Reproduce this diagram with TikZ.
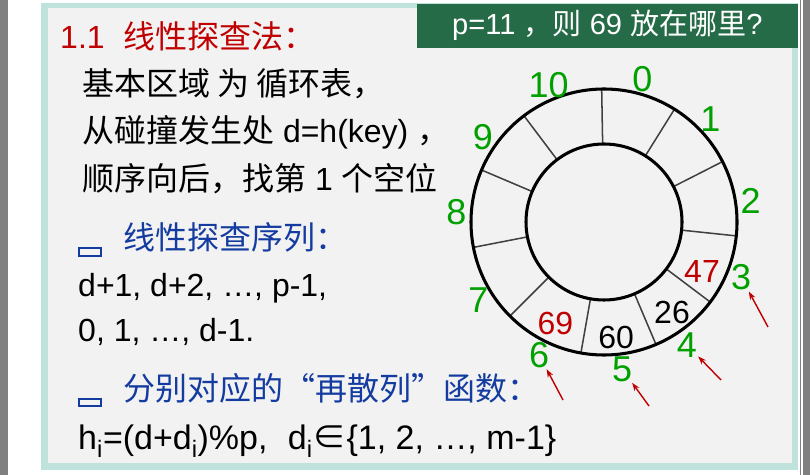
\documentclass[tikz,border=0pt]{standalone}
\usepackage{fontspec}
\setmainfont{Liberation Sans}
\newfontfamily\cjk{Noto Sans CJK SC}
\usetikzlibrary{arrows.meta}
\definecolor{panelgray}{RGB}{242,242,242}
\definecolor{framecyan}{RGB}{192,226,220}
\definecolor{boxgreen}{RGB}{38,107,72}
\definecolor{idxgreen}{RGB}{0,160,0}
\definecolor{hotred}{RGB}{192,0,0}
\definecolor{listblue}{RGB}{20,60,160}
\definecolor{edgegray}{RGB}{128,128,128}
\begin{document}
\begin{tikzpicture}[x=0.03cm, y=0.03cm,
		txt/.style={anchor=base west, inner sep=0pt, font=\fontsize{27.3}{33}\selectfont},
		idx/.style={text=idxgreen, inner sep=1pt, font=\fontsize{30.7}{36}\selectfont},
		val/.style={inner sep=0pt, font=\fontsize{27.3}{33}\selectfont},
		probe/.style={draw=hotred, line width=1.2pt, -{Stealth[length=7pt,width=5pt]}},
		bullet/.style={draw=listblue, line width=2pt}]
				\useasboundingbox (0,0) rectangle (810,475);
				% Page edges
				\fill[white] (0,0) rectangle (810,475);
				\fill[edgegray] (0,0) rectangle (8,475);
				\fill[edgegray] (803,0) rectangle (810,475);
				\draw[edgegray, line width=0.8pt] (800.5,0) -- (800.5,475);
				
				% Slide
				\fill[framecyan] (41,5) rectangle (798,472);
				\fill[panelgray] (48,12) rectangle (792,467);
				\fill[boxgreen] (417,427) rectangle (798,471);
				\node[txt, text=white, font=\fontsize{24.8}{30}\selectfont] (ask) at (452,440) {p=11 {\cjk ，则} 69 {\cjk 放在哪里}?};
				
				% Left text
				\node[txt, text=hotred] (title) at (60,426) {1.1\hspace{0.6em}{\cjk 线性探查法：}};
				\node[txt] (line1) at (82,379) {\cjk 基本区域 为 循环表，};
				\node[txt] (line2) at (82,332) {{\cjk 从碰撞发生处} d=h(key) {\cjk ，}};
				\node[txt] (line3) at (82,284) {{\cjk 顺序向后，找第} 1 {\cjk 个空位}};
				
				\draw[bullet] (79,219) rectangle (101,227);
				\node[txt, text=listblue] (seq) at (123,225) {\cjk 线性探查序列：};
				\node[txt] (seq1) at (78,178) {d+1, d+2, …, p-1,};
				\node[txt] (seq2) at (78,133) {0, 1, …, d-1.};
				
				\draw[bullet] (79,69) rectangle (101,76);
				\node[txt, text=listblue] (rehash) at (123,74) {\cjk 分别对应的“再散列”函数：};
				\node[txt, font=\fontsize{29}{34}\selectfont] (rehash1) at (78,25) {h\textsubscript{i}=(d+d\textsubscript{i})\%p,\hspace{0.6em}d\textsubscript{i}{\cjk ∈}\{1, 2, …, m-1\}};
				
				% Ring
				\begin{scope}[shift={(604,253)}]
					\foreach \a in {91,58,27,-6,-37,-67,-100,-135,-169,157,127}{
						\draw[line width=1.3pt, black!75] (\a:78) -- (\a:133);
					}
					\draw[line width=2.6pt] (0,0) circle (133);
					\draw[line width=2.6pt] (0,0) circle (78);
					
					% Slot numbers
					\foreach \a/\n in {75/0,44/1,8/2,-22/3,-56/4,-83/5,-116/6,-148/7,176/8,145/9,112/10}{
						\node[idx] (i\n) at (\a:148) {\n};
					}
					
					% Keys
					\node[val, text=hotred] (k47) at (-27:110) {47};
					\node[val] (k26) at (-53:113) {26};
					\node[val] (k60) at (-84:116) {60};
					\node[val, text=hotred] (k69) at (-115.5:113) {69};
					
					% Probe tails
					\coordinate (t3) at (164,-105);
					\coordinate (t4) at (117,-158);
					\coordinate (t5) at (45,-184);
					\coordinate (t6) at (-41,-178);
				\end{scope}
				
				% Probes
				\foreach \n in {3,4,5,6}{
					\draw[probe] (t\n) -- (i\n);
				}
			\end{tikzpicture}
\end{document}
